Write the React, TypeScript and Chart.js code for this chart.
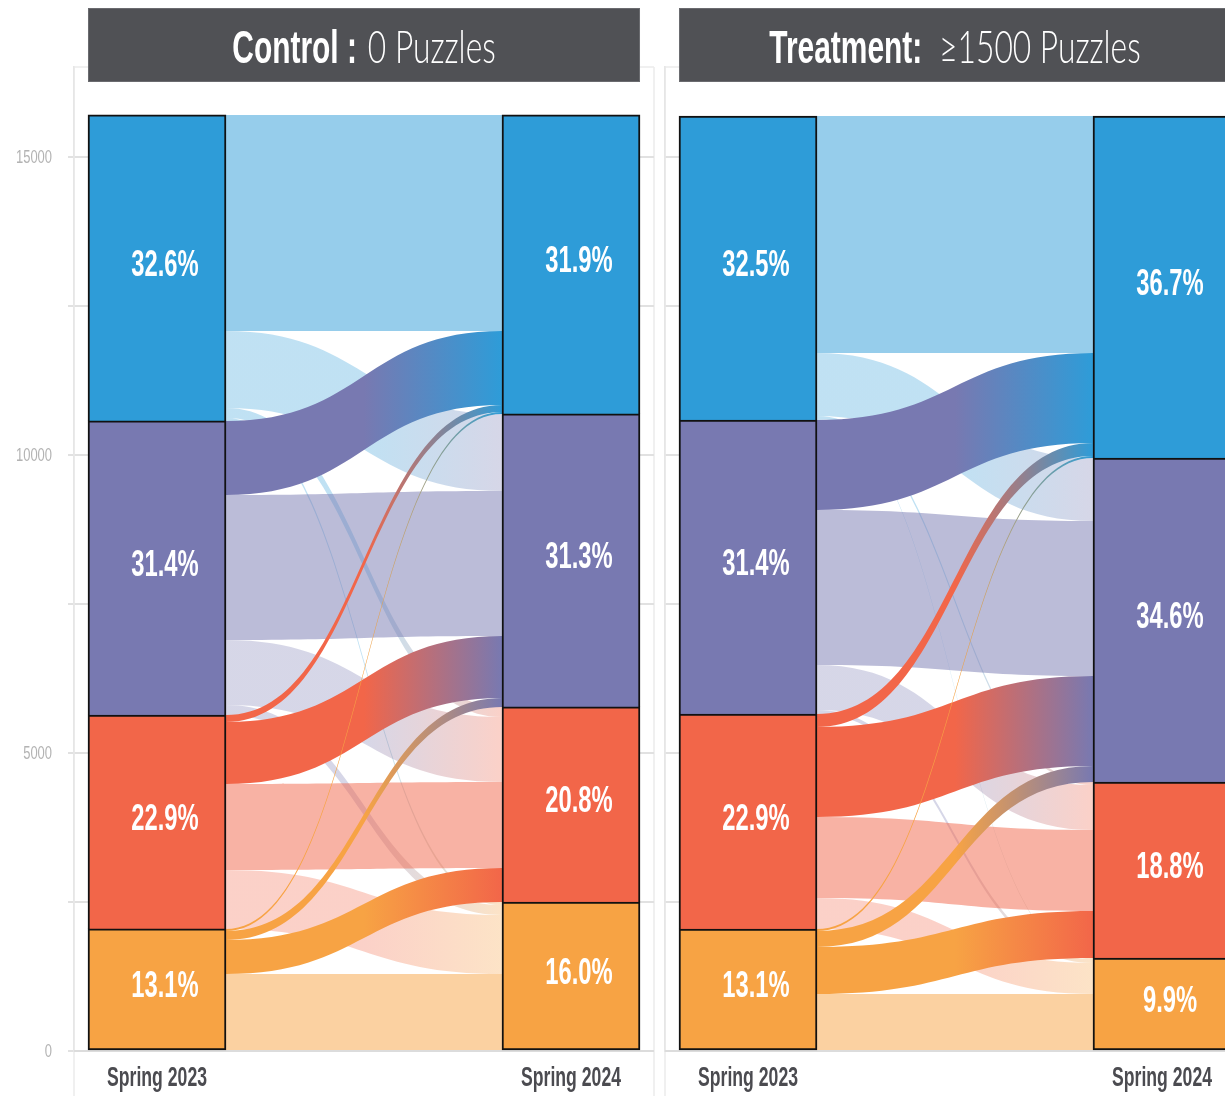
import React, { useEffect, useRef } from 'react';
import { Chart, registerables } from 'chart.js';

Chart.register(...registerables);

// ---------- data ----------
const LEVELS = ['Level 4', 'Level 3', 'Level 2', 'Level 1']; // top to bottom
const LEVEL_COLORS = ['#2e9cd8', '#7879b1', '#f26649', '#f7a344'];
const YEARS = ['Spring 2023', 'Spring 2024'];

// flows[source level (2023)][target level (2024)] = number of students
const CONTROL_FLOWS = [
  [3624, 1292, 168, 50],
  [1242, 2433, 1091, 168],
  [117, 1040, 1443, 990],
  [34, 151, 571, 1292],
];
const TREATMENT_FLOWS = [
  [3977, 1057, 50, 17],
  [1510, 2601, 755, 67],
  [218, 1510, 1359, 520],
  [34, 268, 789, 956],
];

const CONTROL_PCT_2023 = ['32.6%', '31.4%', '22.9%', '13.1%'];
const CONTROL_PCT_2024 = ['31.9%', '31.3%', '20.8%', '16.0%'];
const TREATMENT_PCT_2023 = ['32.5%', '31.4%', '22.9%', '13.1%'];
const TREATMENT_PCT_2024 = ['36.7%', '34.6%', '18.8%', '9.9%'];

const CONTROL_TITLE = ['Control :', '0 Puzzles'];
const TREATMENT_TITLE = ['Treatment:', '≥1500 Puzzles'];

const Y_TICKS = [0, 2500, 5000, 7500, 10000, 12500, 15000];
const Y_TICK_LABELS = ['0', '', '5000', '', '10000', '', '15000'];
const Y_MAX = 16510;

// ---------- layout constants ----------
const BAR_X = [0.1431, 0.8569];
const BAR_W = 138;
const CANVAS_H = 1088;

const BOLD = '"Liberation Sans Narrow", "Arial Narrow", sans-serif';
const LIGHT = 'Lato, "DejaVu Sans", sans-serif';

function rgba(hex: string, a: number) {
  const n = parseInt(hex.slice(1), 16);
  return `rgba(${(n >> 16) & 255},${(n >> 8) & 255},${n & 255},${a})`;
}

function drawText(
  ctx: CanvasRenderingContext2D,
  text: string,
  x: number,
  y: number,
  font: string,
  color: string,
  sx: number,
  align: CanvasTextAlign = 'center'
) {
  ctx.save();
  ctx.font = font;
  ctx.fillStyle = color;
  ctx.textAlign = align;
  ctx.textBaseline = 'alphabetic';
  ctx.translate(x, y);
  ctx.scale(sx, 1);
  ctx.fillText(text, 0, 0);
  ctx.restore();
}

type PanelProps = {
  flows: number[][];
  pctA: string[];
  pctB: string[];
  title: string[];
  titleGap: number;
  showLabels: boolean;
  left: number;
  width: number;
  axisWidth: number;
  padRight: number;
};

function Panel(p: PanelProps) {
  const ref = useRef<HTMLCanvasElement | null>(null);

  useEffect(() => {
    const canvas = ref.current;
    if (!canvas) return;
    const n = LEVELS.length;
    const srcTot = p.flows.map((r) => r.reduce((a, b) => a + b, 0));
    const tgtTot = LEVELS.map((_, j) => p.flows.reduce((a, r) => a + r[j], 0));
    const total = srcTot.reduce((a, b) => a + b, 0);
    const totalT = tgtTot.reduce((a, b) => a + b, 0);

    const datasets = LEVELS.map((name, k) => ({
      label: name,
      data: [
        { x: BAR_X[0], y: srcTot[k] },
        { x: BAR_X[1], y: tgtTot[k] },
      ],
      backgroundColor: LEVEL_COLORS[k],
      borderColor: '#111111',
      borderWidth: { top: 2, left: 2, right: 2, bottom: k === n - 1 ? 2 : 0 },
      borderSkipped: false,
      barThickness: BAR_W,
      stack: 'levels',
      levelIndex: k,
    })).reverse();

    const plugin = {
      id: 'alluvialPanel',
      beforeDraw(chart: any) {
        const { ctx, chartArea: ca } = chart;
        ctx.save();
        ctx.strokeStyle = '#ececec';
        ctx.lineWidth = 1.5;
        ctx.beginPath();
        ctx.moveTo(ca.left, ca.top);
        ctx.lineTo(ca.right, ca.top);
        ctx.moveTo(ca.left, ca.top);
        ctx.lineTo(ca.left, chart.height);
        ctx.moveTo(ca.right, ca.top);
        ctx.lineTo(ca.right, chart.height);
        ctx.stroke();
        ctx.restore();
      },
      beforeDatasetsDraw(chart: any) {
        const { ctx, chartArea: ca } = chart;
        const ys = chart.scales.y;
        const meta = chart.getDatasetMeta(0);
        const b0 = meta.data[0];
        const b1 = meta.data[1];
        const x0 = b0.x + b0.width / 2;
        const x1 = b1.x - b1.width / 2;
        const yTop = ys.getPixelForValue(Math.max(total, totalT));
        const yZero = ys.getPixelForValue(0);

        ctx.save();
        ctx.fillStyle = '#ffffff';
        const L = b0.x - b0.width / 2;
        const R = b1.x + b1.width / 2;
        ctx.fillRect(L, yTop - 2, R - L, yZero - yTop + 2);

        // stacking positions
        const srcTop: number[] = [];
        const tgtTop: number[] = [];
        let a = total;
        let b = totalT;
        for (let k = 0; k < n; k++) {
          srcTop.push(a);
          a -= srcTot[k];
          tgtTop.push(b);
          b -= tgtTot[k];
        }
        const tOff = tgtTop.slice();
        const items: any[] = [];
        for (let i = 0; i < n; i++) {
          let cs = srcTop[i];
          for (let j = 0; j < n; j++) {
            const f = p.flows[i][j];
            const s0 = cs;
            const s1 = cs - f;
            cs = s1;
            const t0 = tOff[j];
            const t1 = t0 - f;
            tOff[j] = t1;
            if (f > 0) items.push({ i, j, s0, s1, t0, t1 });
          }
        }
        const xm = (x0 + x1) / 2;
        const band = (it: any, fill: any) => {
          const ya = ys.getPixelForValue(it.s0);
          const yb = ys.getPixelForValue(it.s1);
          const yc = ys.getPixelForValue(it.t0);
          const yd = ys.getPixelForValue(it.t1);
          ctx.beginPath();
          ctx.moveTo(x0, ya);
          ctx.bezierCurveTo(xm, ya, xm, yc, x1, yc);
          ctx.lineTo(x1, yd);
          ctx.bezierCurveTo(xm, yd, xm, yb, x0, yb);
          ctx.closePath();
          ctx.fillStyle = fill;
          ctx.fill();
        };
        const grad = (c0: string, c1: string) => {
          const g = ctx.createLinearGradient(x0, 0, x1, 0);
          g.addColorStop(0, c0);
          g.addColorStop(0.5, c0);
          g.addColorStop(1, c1);
          return g;
        };
        items
          .filter((it) => it.j >= it.i)
          .forEach((it) =>
            band(
              it,
              it.i === it.j
                ? rgba(LEVEL_COLORS[it.i], 0.5)
                : grad(rgba(LEVEL_COLORS[it.i], 0.3), rgba(LEVEL_COLORS[it.j], 0.3))
            )
          );
        items
          .filter((it) => it.j < it.i)
          .forEach((it) => band(it, grad(LEVEL_COLORS[it.i], LEVEL_COLORS[it.j])));

        // zero grid line over the flows
        ctx.strokeStyle = '#dcdcdc';
        ctx.lineWidth = 2;
        ctx.beginPath();
        ctx.moveTo(ca.left, yZero);
        ctx.lineTo(ca.right, yZero);
        ctx.stroke();
        ctx.restore();
      },
      afterDraw(chart: any) {
        const { ctx, chartArea: ca } = chart;
        const ys = chart.scales.y;
        // percentage labels
        chart.data.datasets.forEach((ds: any, d: number) => {
          const meta = chart.getDatasetMeta(d);
          const k = ds.levelIndex;
          meta.data.forEach((el: any, idx: number) => {
            const txt = idx === 0 ? p.pctA[k] : p.pctB[k];
            const mid = (el.y + el.base) / 2;
            drawText(ctx, txt, el.x + 8, mid + 8, `bold 36px ${BOLD}`, '#ffffff', 0.66);
          });
        });
        const meta = chart.getDatasetMeta(0);
        const b0 = meta.data[0];
        const b1 = meta.data[1];
        // x labels
        [b0, b1].forEach((el: any, idx: number) => {
          drawText(ctx, YEARS[idx], el.x, ca.bottom + 35, `bold 28px ${BOLD}`, '#4b4b50', 0.63);
        });
        // y labels
        if (p.showLabels) {
          Y_TICKS.forEach((v, idx) => {
            const lab = Y_TICK_LABELS[idx];
            if (!lab) return;
            drawText(ctx, lab, ca.left - 22, ys.getPixelForValue(v) + 6, `18px ${BOLD}`, '#b3b3b3', 0.72, 'right');
          });
        }
        // header
        const L = b0.x - b0.width / 2;
        const R = b1.x + b1.width / 2;
        ctx.save();
        ctx.fillStyle = '#505155';
        ctx.fillRect(L, 0, R - L, 74);
        ctx.strokeStyle = '#6a6b6f';
        ctx.lineWidth = 1;
        ctx.strokeRect(L + 0.5, 0.5, R - L - 1, 73);
        ctx.restore();
        const boldFont = `bold 46px ${BOLD}`;
        const lightFont = `300 46px ${LIGHT}`;
        const s1 = 0.65;
        const s2 = 0.69;
        ctx.save();
        ctx.font = boldFont;
        const w1 = ctx.measureText(p.title[0]).width * s1;
        ctx.font = lightFont;
        const w2 = ctx.measureText(p.title[1]).width * s2;
        ctx.restore();
        const gap = p.titleGap;
        const startX = (L + R) / 2 - (w1 + gap + w2) / 2;
        drawText(ctx, p.title[0], startX, 55, boldFont, '#ffffff', s1, 'left');
        drawText(ctx, p.title[1], startX + w1 + gap, 55, lightFont, '#ffffff', s2, 'left');
      },
    };

    const chart = new Chart(canvas, {
      type: 'bar',
      data: { datasets: datasets as any },
      options: {
        responsive: false,
        animation: false,
        layout: { padding: { top: 59, bottom: 45, left: 0, right: p.padRight } },
        plugins: {
          legend: { display: false },
          tooltip: { enabled: false },
          title: { display: false },
        },
        scales: {
          x: {
            type: 'linear',
            min: 0,
            max: 1,
            display: false,
            stacked: true,
            offset: false,
            grid: { offset: false },
          },
          y: {
            type: 'linear',
            min: 0,
            max: Y_MAX,
            bounds: 'data',
            stacked: true,
            position: 'left',
            afterBuildTicks: (s: any) => {
              s.ticks = Y_TICKS.map((v) => ({ value: v }));
            },
            afterFit: (s: any) => {
              s.width = p.axisWidth;
            },
            ticks: { display: false },
            grid: { color: '#e1e1e1', lineWidth: 2, drawTicks: p.showLabels, tickLength: 6 },
            border: { display: true, color: '#e6e6e6', width: 1.5 },
          },
        },
      } as any,
      plugins: [plugin as any],
    });
    return () => chart.destroy();
  }, []);

  return (
    <canvas
      ref={ref}
      width={p.width}
      height={CANVAS_H}
      style={{ position: 'absolute', left: p.left, top: 8, width: p.width, height: CANVAS_H }}
    />
  );
}

export default function App() {
  return (
    <div
      style={{
        position: 'fixed',
        left: 0,
        top: 0,
        width: 1225,
        height: 1096,
        overflow: 'hidden',
        background: '#ffffff',
      }}
    >
      <Panel
        flows={CONTROL_FLOWS}
        pctA={CONTROL_PCT_2023}
        pctB={CONTROL_PCT_2024}
        title={CONTROL_TITLE}
        titleGap={11}
        showLabels={true}
        left={8}
        width={648}
        axisWidth={66}
        padRight={2}
      />
      <Panel
        flows={TREATMENT_FLOWS}
        pctA={TREATMENT_PCT_2023}
        pctB={TREATMENT_PCT_2024}
        title={TREATMENT_TITLE}
        titleGap={17}
        showLabels={false}
        left={655}
        width={595}
        axisWidth={10}
        padRight={5}
      />
    </div>
  );
}
